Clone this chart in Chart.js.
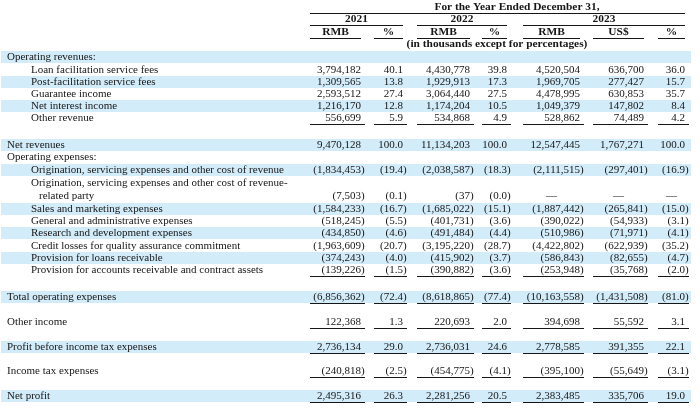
<!DOCTYPE html>
<html>
<head>
<meta charset="utf-8">
<script src="https://cdn.jsdelivr.net/npm/chart.js@4.4.0/dist/chart.umd.min.js"></script>
<style>
  html, body { margin: 0; padding: 0; background: #fff; }
  #wrap { position: relative; width: 700px; height: 408px; }
</style>
</head>
<body>
<div id="wrap"><canvas id="mycanvas"></canvas></div>
<script>
// ---- data (RMB / US$ in thousands, % of net revenues) ----
var rowLabels = [
  'Operating revenues:',
  'Loan facilitation service fees',
  'Post-facilitation service fees',
  'Guarantee income',
  'Net interest income',
  'Other revenue',
  'Net revenues',
  'Operating expenses:',
  'Origination, servicing expenses and other cost of revenue',
  'Origination, servicing expenses and other cost of revenue-\nrelated party',
  'Sales and marketing expenses',
  'General and administrative expenses',
  'Research and development expenses',
  'Credit losses for quality assurance commitment',
  'Provision for loans receivable',
  'Provision for accounts receivable and contract assets',
  'Total operating expenses',
  'Other income',
  'Profit before income tax expenses',
  'Income tax expenses',
  'Net profit'
];

var rmb2021 = [null, 3794182, 1309565, 2593512, 1216170, 556699, 9470128, null,
  -1834453, -7503, -1584233, -518245, -434850, -1963609, -374243, -139226,
  -6856362, 122368, 2736134, -240818, 2495316];
var pct2021 = [null, 40.1, 13.8, 27.4, 12.8, 5.9, 100.0, null,
  -19.4, -0.1, -16.7, -5.5, -4.6, -20.7, -4.0, -1.5,
  -72.4, 1.3, 29.0, -2.5, 26.3];
var rmb2022 = [null, 4430778, 1929913, 3064440, 1174204, 534868, 11134203, null,
  -2038587, -37, -1685022, -401731, -491484, -3195220, -415902, -390882,
  -8618865, 220693, 2736031, -454775, 2281256];
var pct2022 = [null, 39.8, 17.3, 27.5, 10.5, 4.9, 100.0, null,
  -18.3, -0.0, -15.1, -3.6, -4.4, -28.7, -3.7, -3.6,
  -77.4, 2.0, 24.6, -4.1, 20.5];
var rmb2023 = [null, 4520504, 1969705, 4478995, 1049379, 528862, 12547445, null,
  -2111515, '—', -1887442, -390022, -510986, -4422802, -586843, -253948,
  -10163558, 394698, 2778585, -395100, 2383485];
var usd2023 = [null, 636700, 277427, 630853, 147802, 74489, 1767271, null,
  -297401, '—', -265841, -54933, -71971, -622939, -82655, -35768,
  -1431508, 55592, 391355, -55649, 335706];
var pct2023 = [null, 36.0, 15.7, 35.7, 8.4, 4.2, 100.0, null,
  -16.9, '—', -15.0, -3.1, -4.1, -35.2, -4.7, -2.0,
  -81.0, 3.1, 22.1, -3.1, 19.0];

var yearLabels = ['2021', '2022', '2023'];
var unitLabels = ['RMB', '%', 'RMB', '%', 'RMB', 'US$', '%'];
var titleText = 'For the Year Ended December 31,';
var noteText = '(in thousands except for percentages)';

// ---- layout ----
var columns = [rmb2021, pct2021, rmb2022, pct2022, rmb2023, usd2023, pct2023];
var colIsPct = [false, true, false, true, false, false, true];
var colLeft  = [310, 374, 417, 482, 523, 593, 658];
var colRight = [361, 403, 470, 507, 580, 644, 685];
var yearSpan = [[0, 1], [2, 3], [4, 6]];
var rowY = [57, 70, 82, 94, 106, 118, 145, 157, 170, 196, 209, 221, 233, 246, 258, 270,
  297, 322, 347, 371, 396];
var rowIndent = [7, 31, 31, 31, 31, 31, 7, 7, 31, 31, 31, 31, 31, 31, 31, 31, 7, 7, 7, 7, 7];
var rowRule = [5, 15, 16, 17, 18, 19, 20];

var FONT = "11px 'Liberation Serif', 'Times New Roman', serif";
var BOLD = "bold 11.4px 'Liberation Serif', 'Times New Roman', serif";
var INK = '#161616';
var BAND = '#d3ecfa';

function isNeg(v) { return v < 0 || Object.is(v, -0); }
function fmt(v, pct) {
  if (typeof v === 'string') return v;
  var a = Math.abs(v);
  return pct ? a.toFixed(1) : a.toLocaleString('en-US');
}

// one scatter dataset per column, each cell is a point on the scales
var datasets = columns.map(function(col, c) {
  var pts = [];
  col.forEach(function(v, r) {
    if (v !== null) pts.push({ x: colRight[c], y: rowY[r], v: v, row: r });
  });
  return { data: pts, pointRadius: 0, pointHoverRadius: 0, col: c };
});

var tablePlugin = {
  id: 'tableText',
  beforeDatasetsDraw: function(chart) {
    var ctx = chart.ctx, xs = chart.scales.x, ys = chart.scales.y;
    ctx.save();
    ctx.fillStyle = BAND;
    for (var r = 0; r < rowLabels.length; r += 2) {
      var t = ys.getPixelForValue(rowY[r] - 6), b = ys.getPixelForValue(rowY[r] + 6);
      ctx.fillRect(xs.getPixelForValue(1), t, xs.getPixelForValue(691) - xs.getPixelForValue(1), b - t);
    }
    ctx.restore();
  },
  afterDatasetsDraw: function(chart) {
    var ctx = chart.ctx, xs = chart.scales.x, ys = chart.scales.y;
    ctx.save();
    ctx.fillStyle = INK;
    ctx.strokeStyle = INK;
    ctx.lineWidth = 1;
    ctx.textBaseline = 'middle';

    function hline(x1, x2, yv) {
      var py = Math.round(ys.getPixelForValue(yv)) + 0.5;
      ctx.beginPath();
      ctx.moveTo(xs.getPixelForValue(x1), py);
      ctx.lineTo(xs.getPixelForValue(x2), py);
      ctx.stroke();
    }

    // header
    ctx.font = BOLD;
    ctx.textAlign = 'center';
    ctx.fillText(titleText, xs.getPixelForValue(517), ys.getPixelForValue(7));
    hline(colLeft[0], colRight[6], 13);
    yearSpan.forEach(function(s, i) {
      var l = colLeft[s[0]], rr = colRight[s[1]];
      ctx.fillText(yearLabels[i], xs.getPixelForValue((l + rr) / 2), ys.getPixelForValue(19));
      hline(l, rr, 25);
    });
    unitLabels.forEach(function(u, c) {
      ctx.fillText(u, xs.getPixelForValue((colLeft[c] + colRight[c]) / 2), ys.getPixelForValue(32));
      hline(colLeft[c], colRight[c], 38);
    });
    ctx.fillText(noteText, xs.getPixelForValue(497), ys.getPixelForValue(44));

    // row labels
    ctx.font = FONT;
    ctx.textAlign = 'left';
    rowLabels.forEach(function(lab, r) {
      var lines = lab.split('\n');
      if (lines.length > 1) {
        ctx.fillText(lines[0], xs.getPixelForValue(rowIndent[r]), ys.getPixelForValue(rowY[r] - 13));
        ctx.fillText(lines[1], xs.getPixelForValue(rowIndent[r] + 8), ys.getPixelForValue(rowY[r]));
      } else {
        ctx.fillText(lab, xs.getPixelForValue(rowIndent[r]), ys.getPixelForValue(rowY[r]));
      }
    });

    // cells
    chart.data.datasets.forEach(function(ds, di) {
      var meta = chart.getDatasetMeta(di);
      var c = ds.col;
      meta.data.forEach(function(el, i) {
        var raw = ds.data[i];
        var v = raw.v;
        if (typeof v === 'string') {
          ctx.textAlign = 'center';
          ctx.fillText(v, xs.getPixelForValue((colLeft[c] + colRight[c]) / 2), el.y);
          return;
        }
        var s = fmt(v, colIsPct[c]);
        if (isNeg(v)) {
          ctx.textAlign = 'right';
          ctx.fillText('(' + s, el.x, el.y);
          ctx.textAlign = 'left';
          ctx.fillText(')', el.x, el.y);
        } else {
          ctx.textAlign = 'right';
          ctx.fillText(s, el.x, el.y);
        }
      });
    });

    // underlines below subtotal rows
    rowRule.forEach(function(r) {
      for (var c = 0; c < colLeft.length; c++) hline(colLeft[c], colRight[c] + 4, rowY[r] + 6);
    });
    ctx.restore();
  }
};

var ctx = document.getElementById('mycanvas');
new Chart(ctx, {
  type: 'scatter',
  data: { datasets: datasets },
  options: {
    responsive: true,
    maintainAspectRatio: false,
    animation: false,
    events: [],
    layout: { padding: 0 },
    plugins: { legend: { display: false }, tooltip: { enabled: false } },
    scales: {
      x: { type: 'linear', min: 0, max: 700, display: false },
      y: { type: 'linear', min: 0, max: 408, reverse: true, display: false }
    }
  },
  plugins: [tablePlugin]
});
</script>
</body>
</html>
